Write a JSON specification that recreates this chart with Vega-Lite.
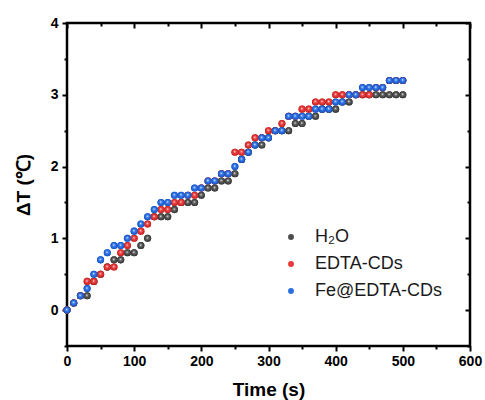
{
  "$schema": "https://vega.github.io/schema/vega-lite/v6.json",
  "width": 403,
  "height": 323,
  "autosize": {"type": "none"},
  "padding": {"left": 67, "top": 23, "right": 15, "bottom": 54},
  "background": "white",
  "config": {
    "view": {"stroke": "black", "strokeWidth": 2.5},
    "font": "Liberation Sans",
    "axis": {"grid": false, "domain": false, "tickColor": "black", "tickWidth": 2, "labelColor": "black", "titleColor": "black"}
  },
  "data": {
    "values": [
      {"t":0,"v":0,"s":"H₂O"},{"t":10,"v":0.1,"s":"H₂O"},{"t":20,"v":0.2,"s":"H₂O"},{"t":30,"v":0.2,"s":"H₂O"},{"t":40,"v":0.4,"s":"H₂O"},{"t":50,"v":0.5,"s":"H₂O"},{"t":60,"v":0.6,"s":"H₂O"},{"t":70,"v":0.7,"s":"H₂O"},{"t":80,"v":0.7,"s":"H₂O"},{"t":90,"v":0.8,"s":"H₂O"},{"t":100,"v":0.8,"s":"H₂O"},{"t":110,"v":0.9,"s":"H₂O"},{"t":120,"v":1.0,"s":"H₂O"},{"t":130,"v":1.3,"s":"H₂O"},{"t":140,"v":1.3,"s":"H₂O"},{"t":150,"v":1.3,"s":"H₂O"},{"t":160,"v":1.4,"s":"H₂O"},{"t":170,"v":1.5,"s":"H₂O"},{"t":180,"v":1.5,"s":"H₂O"},{"t":190,"v":1.5,"s":"H₂O"},{"t":200,"v":1.6,"s":"H₂O"},{"t":210,"v":1.7,"s":"H₂O"},{"t":220,"v":1.7,"s":"H₂O"},{"t":230,"v":1.8,"s":"H₂O"},{"t":240,"v":1.8,"s":"H₂O"},{"t":250,"v":1.9,"s":"H₂O"},{"t":260,"v":2.1,"s":"H₂O"},{"t":270,"v":2.2,"s":"H₂O"},{"t":280,"v":2.3,"s":"H₂O"},{"t":290,"v":2.3,"s":"H₂O"},{"t":300,"v":2.4,"s":"H₂O"},{"t":310,"v":2.5,"s":"H₂O"},{"t":320,"v":2.5,"s":"H₂O"},{"t":330,"v":2.5,"s":"H₂O"},{"t":340,"v":2.6,"s":"H₂O"},{"t":350,"v":2.6,"s":"H₂O"},{"t":360,"v":2.7,"s":"H₂O"},{"t":370,"v":2.7,"s":"H₂O"},{"t":380,"v":2.8,"s":"H₂O"},{"t":390,"v":2.8,"s":"H₂O"},{"t":400,"v":2.8,"s":"H₂O"},{"t":410,"v":2.9,"s":"H₂O"},{"t":420,"v":2.9,"s":"H₂O"},{"t":430,"v":3.0,"s":"H₂O"},{"t":440,"v":3.0,"s":"H₂O"},{"t":450,"v":3.0,"s":"H₂O"},{"t":460,"v":3.0,"s":"H₂O"},{"t":470,"v":3.0,"s":"H₂O"},{"t":480,"v":3.0,"s":"H₂O"},{"t":490,"v":3.0,"s":"H₂O"},{"t":500,"v":3.0,"s":"H₂O"},
      {"t":0,"v":0,"s":"EDTA-CDs"},{"t":10,"v":0.1,"s":"EDTA-CDs"},{"t":20,"v":0.2,"s":"EDTA-CDs"},{"t":30,"v":0.4,"s":"EDTA-CDs"},{"t":40,"v":0.4,"s":"EDTA-CDs"},{"t":50,"v":0.5,"s":"EDTA-CDs"},{"t":60,"v":0.6,"s":"EDTA-CDs"},{"t":70,"v":0.6,"s":"EDTA-CDs"},{"t":80,"v":0.8,"s":"EDTA-CDs"},{"t":90,"v":0.9,"s":"EDTA-CDs"},{"t":100,"v":1.0,"s":"EDTA-CDs"},{"t":110,"v":1.1,"s":"EDTA-CDs"},{"t":120,"v":1.2,"s":"EDTA-CDs"},{"t":130,"v":1.3,"s":"EDTA-CDs"},{"t":140,"v":1.4,"s":"EDTA-CDs"},{"t":150,"v":1.4,"s":"EDTA-CDs"},{"t":160,"v":1.5,"s":"EDTA-CDs"},{"t":170,"v":1.5,"s":"EDTA-CDs"},{"t":180,"v":1.6,"s":"EDTA-CDs"},{"t":190,"v":1.6,"s":"EDTA-CDs"},{"t":200,"v":1.7,"s":"EDTA-CDs"},{"t":210,"v":1.8,"s":"EDTA-CDs"},{"t":220,"v":1.8,"s":"EDTA-CDs"},{"t":230,"v":1.9,"s":"EDTA-CDs"},{"t":240,"v":1.9,"s":"EDTA-CDs"},{"t":250,"v":2.2,"s":"EDTA-CDs"},{"t":260,"v":2.2,"s":"EDTA-CDs"},{"t":270,"v":2.3,"s":"EDTA-CDs"},{"t":280,"v":2.4,"s":"EDTA-CDs"},{"t":290,"v":2.4,"s":"EDTA-CDs"},{"t":300,"v":2.5,"s":"EDTA-CDs"},{"t":310,"v":2.5,"s":"EDTA-CDs"},{"t":320,"v":2.6,"s":"EDTA-CDs"},{"t":330,"v":2.7,"s":"EDTA-CDs"},{"t":340,"v":2.7,"s":"EDTA-CDs"},{"t":350,"v":2.8,"s":"EDTA-CDs"},{"t":360,"v":2.8,"s":"EDTA-CDs"},{"t":370,"v":2.9,"s":"EDTA-CDs"},{"t":380,"v":2.9,"s":"EDTA-CDs"},{"t":390,"v":2.9,"s":"EDTA-CDs"},{"t":400,"v":3.0,"s":"EDTA-CDs"},{"t":410,"v":3.0,"s":"EDTA-CDs"},{"t":420,"v":3.0,"s":"EDTA-CDs"},{"t":430,"v":3.0,"s":"EDTA-CDs"},{"t":440,"v":3.0,"s":"EDTA-CDs"},{"t":450,"v":3.0,"s":"EDTA-CDs"},{"t":460,"v":3.1,"s":"EDTA-CDs"},{"t":470,"v":3.1,"s":"EDTA-CDs"},{"t":480,"v":3.2,"s":"EDTA-CDs"},{"t":490,"v":3.2,"s":"EDTA-CDs"},{"t":500,"v":3.2,"s":"EDTA-CDs"},
      {"t":0,"v":0,"s":"Fe@EDTA-CDs"},{"t":10,"v":0.1,"s":"Fe@EDTA-CDs"},{"t":20,"v":0.2,"s":"Fe@EDTA-CDs"},{"t":30,"v":0.3,"s":"Fe@EDTA-CDs"},{"t":40,"v":0.5,"s":"Fe@EDTA-CDs"},{"t":50,"v":0.7,"s":"Fe@EDTA-CDs"},{"t":60,"v":0.8,"s":"Fe@EDTA-CDs"},{"t":70,"v":0.9,"s":"Fe@EDTA-CDs"},{"t":80,"v":0.9,"s":"Fe@EDTA-CDs"},{"t":90,"v":1.0,"s":"Fe@EDTA-CDs"},{"t":100,"v":1.1,"s":"Fe@EDTA-CDs"},{"t":110,"v":1.2,"s":"Fe@EDTA-CDs"},{"t":120,"v":1.3,"s":"Fe@EDTA-CDs"},{"t":130,"v":1.4,"s":"Fe@EDTA-CDs"},{"t":140,"v":1.5,"s":"Fe@EDTA-CDs"},{"t":150,"v":1.5,"s":"Fe@EDTA-CDs"},{"t":160,"v":1.6,"s":"Fe@EDTA-CDs"},{"t":170,"v":1.6,"s":"Fe@EDTA-CDs"},{"t":180,"v":1.6,"s":"Fe@EDTA-CDs"},{"t":190,"v":1.7,"s":"Fe@EDTA-CDs"},{"t":200,"v":1.7,"s":"Fe@EDTA-CDs"},{"t":210,"v":1.8,"s":"Fe@EDTA-CDs"},{"t":220,"v":1.8,"s":"Fe@EDTA-CDs"},{"t":230,"v":1.9,"s":"Fe@EDTA-CDs"},{"t":240,"v":1.9,"s":"Fe@EDTA-CDs"},{"t":250,"v":2.0,"s":"Fe@EDTA-CDs"},{"t":260,"v":2.1,"s":"Fe@EDTA-CDs"},{"t":270,"v":2.2,"s":"Fe@EDTA-CDs"},{"t":280,"v":2.3,"s":"Fe@EDTA-CDs"},{"t":290,"v":2.4,"s":"Fe@EDTA-CDs"},{"t":300,"v":2.4,"s":"Fe@EDTA-CDs"},{"t":310,"v":2.5,"s":"Fe@EDTA-CDs"},{"t":320,"v":2.5,"s":"Fe@EDTA-CDs"},{"t":330,"v":2.7,"s":"Fe@EDTA-CDs"},{"t":340,"v":2.7,"s":"Fe@EDTA-CDs"},{"t":350,"v":2.7,"s":"Fe@EDTA-CDs"},{"t":360,"v":2.7,"s":"Fe@EDTA-CDs"},{"t":370,"v":2.8,"s":"Fe@EDTA-CDs"},{"t":380,"v":2.8,"s":"Fe@EDTA-CDs"},{"t":390,"v":2.8,"s":"Fe@EDTA-CDs"},{"t":400,"v":2.9,"s":"Fe@EDTA-CDs"},{"t":410,"v":2.9,"s":"Fe@EDTA-CDs"},{"t":420,"v":3.0,"s":"Fe@EDTA-CDs"},{"t":430,"v":3.0,"s":"Fe@EDTA-CDs"},{"t":440,"v":3.1,"s":"Fe@EDTA-CDs"},{"t":450,"v":3.1,"s":"Fe@EDTA-CDs"},{"t":460,"v":3.1,"s":"Fe@EDTA-CDs"},{"t":470,"v":3.1,"s":"Fe@EDTA-CDs"},{"t":480,"v":3.2,"s":"Fe@EDTA-CDs"},{"t":490,"v":3.2,"s":"Fe@EDTA-CDs"},{"t":500,"v":3.2,"s":"Fe@EDTA-CDs"}
    ]
  },
  "resolve": {"axis": {"x": "independent", "y": "independent"}},
  "layer": [
    {
      "mark": {"type": "point", "filled": true, "opacity": 1, "size": 50, "shape": "circle"},
      "encoding": {
        "x": {"field": "t", "type": "quantitative", "scale": {"domain": [0, 600], "nice": false, "zero": false},
          "axis": {"orient": "bottom", "title": "Time (s)", "values": [0,50,100,150,200,250,300,350,400,450,500,550,600],
            "labelExpr": "datum.value % 100 === 0 ? '' + datum.value : ''",
            "tickSize": {"condition": {"test": "datum.value % 100 !== 0", "value": 3}, "value": 5},
            "labelFontSize": 14, "labelFontWeight": "bold", "labelPadding": 3, "labelFlush": false,
            "titleFontSize": 19, "titleFontWeight": "bold", "titlePadding": 12}},
        "y": {"field": "v", "type": "quantitative", "scale": {"domain": [-0.5, 4], "nice": false, "zero": false},
          "axis": {"orient": "left", "title": "ΔT (℃)", "values": [-0.5,0,0.5,1,1.5,2,2.5,3,3.5,4],
            "labelExpr": "datum.value % 1 === 0 ? '' + datum.value : ''",
            "tickSize": {"condition": {"test": "datum.value % 1 !== 0", "value": 3}, "value": 5},
            "labelFontSize": 14, "labelFontWeight": "bold", "labelPadding": 4, "labelFlush": false,
            "titleFontSize": 19, "titleFontWeight": "bold", "titlePadding": 17}},
        "color": {"field": "s", "type": "nominal",
          "scale": {"domain": ["H₂O", "EDTA-CDs", "Fe@EDTA-CDs"], "range": ["#4d4d4d", "#e83a3a", "#2a6fe0"]},
          "legend": {"title": null, "orient": "none", "legendX": 215, "legendY": 205, "padding": 0,
            "labelFontSize": 18, "labelFont": "Liberation Sans", "labelColor": "#1a1a1a", "symbolSize": 35, "symbolType": "circle",
            "labelOffset": 15, "rowPadding": 9}}
      }
    },
    {
      "transform": [{"filter": "datum.s === 'H₂O'"}],
      "mark": {"type": "point", "filled": true, "opacity": 1, "size": 50, "shape": "circle",
        "fill": {"gradient": "radial", "x1": 0.45, "y1": 0.4, "r1": 0, "x2": 0.5, "y2": 0.5, "r2": 0.5,
          "stops": [{"offset": 0, "color": "#ffffff"}, {"offset": 0.35, "color": "#666666"}, {"offset": 1, "color": "#333333"}]}},
      "encoding": {
        "x": {"field": "t", "type": "quantitative",
          "axis": {"orient": "top", "title": null, "labels": false, "values": [0,50,100,150,200,250,300,350,400,450,500,550,600],
            "tickSize": {"condition": {"test": "datum.value % 100 !== 0", "value": -3}, "value": -5}}},
        "y": {"field": "v", "type": "quantitative",
          "axis": {"orient": "right", "title": null, "labels": false, "values": [-0.5,0,0.5,1,1.5,2,2.5,3,3.5,4],
            "tickSize": {"condition": {"test": "datum.value % 1 !== 0", "value": -3}, "value": -5}}}
      }
    },
    {
      "transform": [{"filter": "datum.s === 'EDTA-CDs'"}],
      "mark": {"type": "point", "filled": true, "opacity": 1, "size": 50, "shape": "circle",
        "fill": {"gradient": "radial", "x1": 0.45, "y1": 0.4, "r1": 0, "x2": 0.5, "y2": 0.5, "r2": 0.5,
          "stops": [{"offset": 0, "color": "#ffffff"}, {"offset": 0.35, "color": "#f04848"}, {"offset": 1, "color": "#c42020"}]}},
      "encoding": {
        "x": {"field": "t", "type": "quantitative", "axis": null},
        "y": {"field": "v", "type": "quantitative", "axis": null}
      }
    },
    {
      "transform": [{"filter": "datum.s === 'Fe@EDTA-CDs'"}],
      "mark": {"type": "point", "filled": true, "opacity": 1, "size": 50, "shape": "circle",
        "fill": {"gradient": "radial", "x1": 0.45, "y1": 0.4, "r1": 0, "x2": 0.5, "y2": 0.5, "r2": 0.5,
          "stops": [{"offset": 0, "color": "#ffffff"}, {"offset": 0.35, "color": "#3a80f0"}, {"offset": 1, "color": "#1650c0"}]}},
      "encoding": {
        "x": {"field": "t", "type": "quantitative", "axis": null},
        "y": {"field": "v", "type": "quantitative", "axis": null}
      }
    }
  ]
}
